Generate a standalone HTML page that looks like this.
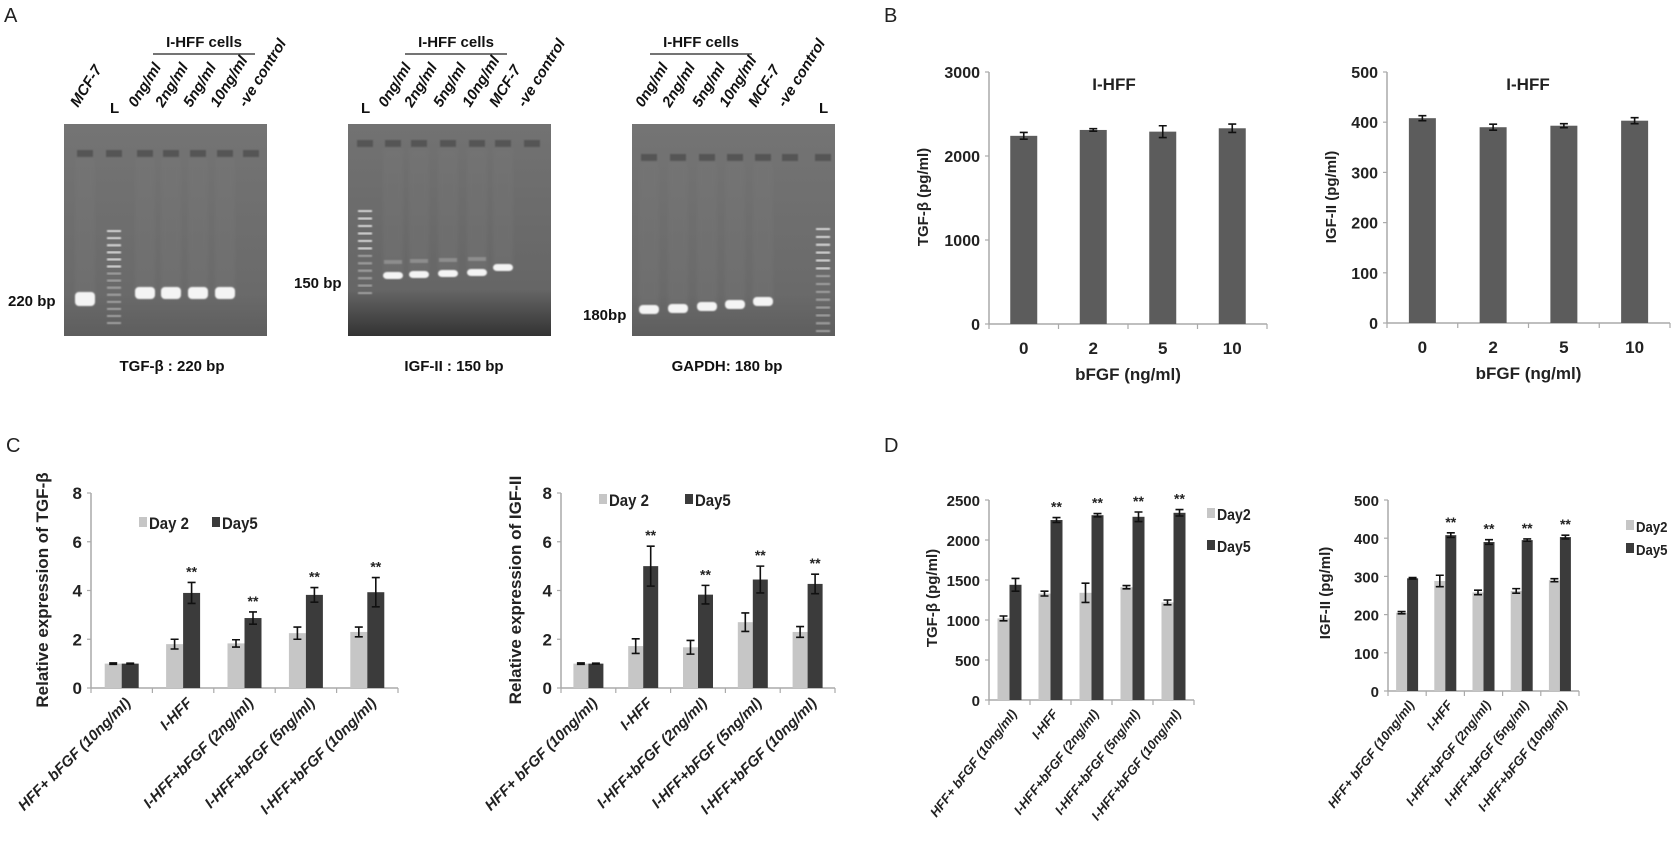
<!DOCTYPE html>
<html><head><meta charset="utf-8">
<style>
html,body{margin:0;padding:0;background:#fff;}
svg{display:block;font-family:"Liberation Sans",Arial,sans-serif;}
</style></head>
<body>
<svg id="fig" width="1674" height="849" viewBox="0 0 1674 849" xmlns="http://www.w3.org/2000/svg">
<defs>
<linearGradient id="gelg" x1="0" y1="0" x2="0" y2="1">
<stop offset="0" stop-color="#747474"/><stop offset="0.8" stop-color="#6a6a6a"/><stop offset="1" stop-color="#5e5e5e"/>
</linearGradient>
<linearGradient id="gelg2" x1="0" y1="0" x2="0" y2="1">
<stop offset="0" stop-color="#727272"/><stop offset="0.78" stop-color="#666"/><stop offset="1" stop-color="#333"/>
</linearGradient>
<filter id="blur1"><feGaussianBlur stdDeviation="2.2"/></filter>
<filter id="blur2"><feGaussianBlur stdDeviation="0.7"/></filter>
</defs>
<g id="layer"></g>
</svg>
<script>
// ---------- chart data ----------
var bCats = ["0","2","5","10"];
var bTgfVals = [2240,2310,2290,2330];
var bTgfErr = [40,15,70,50];
var bIgfVals = [408,390,393,403];
var bIgfErr = [5,6,4,6];
var bTgfTicks = [0,1000,2000,3000];
var bIgfTicks = [0,100,200,300,400,500];

var groupCats = ["HFF+ bFGF (10ng/ml)","I-HFF","I-HFF+bFGF (2ng/ml)","I-HFF+bFGF (5ng/ml)","I-HFF+bFGF (10ng/ml)"];
var cTgfDay2 = [1.0,1.8,1.83,2.25,2.3];
var cTgfDay2Err = [0.03,0.2,0.15,0.25,0.2];
var cTgfDay5 = [1.0,3.9,2.87,3.82,3.93];
var cTgfDay5Err = [0.02,0.43,0.25,0.3,0.6];
var cTgfSig = [false,true,true,true,true];
var cIgfDay2 = [1.0,1.72,1.67,2.7,2.3];
var cIgfDay2Err = [0.03,0.3,0.28,0.38,0.22];
var cIgfDay5 = [1.0,5.0,3.83,4.45,4.27];
var cIgfDay5Err = [0.02,0.82,0.38,0.55,0.4];
var cIgfSig = [false,true,true,true,true];
var cTicks = [0,2,4,6,8];

var dTgfDay2 = [1020,1330,1340,1410,1220];
var dTgfDay2Err = [30,30,120,20,30];
var dTgfDay5 = [1440,2250,2310,2290,2340];
var dTgfDay5Err = [80,30,20,60,40];
var dTgfSig = [false,true,true,true,true];
var dTgfTicks = [0,500,1000,1500,2000,2500];
var dIgfDay2 = [205,288,258,262,290];
var dIgfDay2Err = [3,15,6,6,4];
var dIgfDay5 = [295,408,390,395,403];
var dIgfDay5Err = [2,6,6,3,5];
var dIgfSig = [false,true,true,true,true];
var dIgfTicks = [0,100,200,300,400,500];

var NS = "http://www.w3.org/2000/svg";
var root = document.getElementById("layer");
function el(tag, attrs, parent){
  var e = document.createElementNS(NS, tag);
  for (var k in attrs) e.setAttribute(k, attrs[k]);
  (parent||root).appendChild(e);
  return e;
}
function txt(s, attrs, parent){
  var t = el("text", attrs, parent);
  t.textContent = s;
  return t;
}

// ---------- panel letters ----------
[["A",4,22],["B",884,22],["C",6,452],["D",884,452]].forEach(function(p){
  var t = txt(p[0], {x:p[1], y:p[2], "font-size":"20", fill:"#222"});
  
  
});

// ---------- gels ----------
function gel(cfg){
  var g = el("g", {});
  
  
  var r = el("rect", {x:cfg.x, y:124, width:203, height:212, fill:cfg.grad}, g);
  
  
  cfg.lanes.forEach(function(ln){
    var w = el("rect", {x:ln.x-8, y:cfg.wellY, width:16, height:7, fill:"#555", filter:"url(#blur2)"}, g);
    
    
    if (ln.band){
      var s = el("rect", {x:ln.x-10, y:cfg.wellY+8, width:20, height:ln.band-cfg.wellY-10, fill:"#7a7a7a", opacity:"0.3", filter:"url(#blur1)"}, g);
      
      
      var bd = el("rect", {x:ln.x-10, y:ln.band-5, width:20, height:ln.bh||10, rx:4, fill:"#f4f4f4", filter:"url(#blur2)"}, g);
      
      
      if (ln.extra){
        var ex = el("rect", {x:ln.x-9, y:ln.extra, width:18, height:4, fill:"#8e8e8e", filter:"url(#blur2)"}, g);
        
        
      }
    }
  });
  for (var i=0;i<cfg.ladN;i++){
    var yy = cfg.ladY0 + i*(cfg.ladY1-cfg.ladY0)/(cfg.ladN-1);
    var lb = el("rect", {x:cfg.ladX-7, y:yy, width:14, height:2.2, fill: i<6 ? "#d8d8d8":"#a0a0a0", filter:"url(#blur2)"}, g);
    
    
  }
  cfg.labels.forEach(function(l){
    var t = txt(l[0], {x:0, y:0, "font-size":"15", "font-style":"italic", "font-weight":"bold", fill:"#111", transform:"translate("+l[1]+",108) rotate(-58)"}, g);
    
    
  });
  var L = txt("L", {x:cfg.ladX-4, y:113, "font-size":"15", "font-weight":"bold", fill:"#111"}, g);
  
  
  var h = txt("I-HFF cells", {x:cfg.hdrX, y:47, "font-size":"15", "font-weight":"bold", "text-anchor":"middle", fill:"#111"}, g);
  
  
  var hl = el("line", {x1:cfg.hdrX-51, x2:cfg.hdrX+51, y1:54, y2:54, stroke:"#222", "stroke-width":"1.3"}, g);
  
  
  var sz = txt(cfg.size[0], {x:cfg.size[1], y:cfg.size[2], "font-size":"15", "font-weight":"bold", fill:"#111"}, g);
  
  
  var cap = txt(cfg.caption, {x:cfg.capX, y:371, "font-size":"15", "font-weight":"bold", "text-anchor":"middle", fill:"#111"}, g);
  
  
}
gel({name:"gel-tgf-beta", x:64, grad:"url(#gelg)", wellY:150,
  lanes:[{x:85,band:297,bh:14},{x:114},{x:145,band:292,bh:12},{x:171,band:292,bh:12},{x:198,band:292,bh:12},{x:225,band:292,bh:12},{x:251}],
  ladX:114, ladY0:230, ladY1:322, ladN:14,
  labels:[["MCF-7",78],["0ng/ml",136],["2ng/ml",163],["5ng/ml",191],["10ng/ml",218],["-ve control",246]],
  hdrX:204, size:["220 bp",8,306], caption:"TGF-β : 220 bp", capX:172});
gel({name:"gel-igf-ii", x:348, grad:"url(#gelg2)", wellY:140,
  lanes:[{x:365},{x:393,band:277,bh:7,extra:260},{x:419,band:276,bh:7,extra:259},{x:448,band:275,bh:7,extra:258},{x:477,band:274,bh:7,extra:257},{x:503,band:269,bh:7},{x:532}],
  ladX:365, ladY0:210, ladY1:292, ladN:12,
  labels:[["0ng/ml",386],["2ng/ml",412],["5ng/ml",441],["10ng/ml",470],["MCF-7",497],["-ve control",525]],
  hdrX:456, size:["150 bp",294,288], caption:"IGF-II : 150 bp", capX:454});
gel({name:"gel-gapdh", x:632, grad:"url(#gelg)", wellY:154,
  lanes:[{x:649,band:310,bh:9},{x:678,band:309,bh:9},{x:707,band:307,bh:9},{x:735,band:305,bh:9},{x:763,band:302,bh:9},{x:790},{x:823}],
  ladX:823, ladY0:228, ladY1:330, ladN:14,
  labels:[["0ng/ml",643],["2ng/ml",670],["5ng/ml",700],["10ng/ml",727],["MCF-7",756],["-ve control",785]],
  hdrX:701, size:["180bp",583,320], caption:"GAPDH: 180 bp", capX:727});

// ---------- bar charts ----------
function chart(c){
  var g = el("g", {});
  
  
  var n = c.cats.length;
  var cw = (c.x1 - c.x0)/n;
  var ymax = c.ticks[c.ticks.length-1];
  function sy(v){ return c.y0 - v/ymax*(c.y0 - c.yTop); }
  function sx(i){ return c.x0 + cw*(i+0.5); }
  var ax = el("line", {x1:c.x0, x2:c.x0, y1:c.yTop, y2:c.y0, stroke:"#aaa", "stroke-width":"1.5"}, g);
  
  
  var xa = el("line", {x1:c.x0, x2:c.x1, y1:c.y0, y2:c.y0, stroke:"#aaa", "stroke-width":"1.5"}, g);
  
  
  c.ticks.forEach(function(t){
    var tk = el("line", {x1:c.x0-4, x2:c.x0, y1:sy(t), y2:sy(t), stroke:"#aaa", "stroke-width":"1.2"}, g);
    
    
    var tl = txt(String(t), {x:c.x0-9, y:sy(t)+6, "font-size":c.tickFs, "font-weight":"bold", "text-anchor":"end", fill:"#222"}, g);
    
    
  });
  for (var i=0;i<=n;i++){
    var xt = el("line", {x1:c.x0+cw*i, x2:c.x0+cw*i, y1:c.y0, y2:c.y0+5, stroke:"#aaa", "stroke-width":"1.2"}, g);
    
    
  }
  c.series.forEach(function(s, si){
    s.vals.forEach(function(v, i){
      var bx = c.series.length === 1 ? sx(i) - c.bw/2 : sx(i) - c.bw + si*c.bw;
      var r = el("rect", {x:bx, y:sy(v), width:c.bw, height:c.y0 - sy(v), fill:s.color}, g);
      
      
      var cx = bx + c.bw/2, e = s.err[i];
      var eb = el("path", {d:"M"+(cx-4)+" "+sy(v+e)+"H"+(cx+4)+"M"+cx+" "+sy(v+e)+"V"+sy(v-e)+"M"+(cx-4)+" "+sy(v-e)+"H"+(cx+4), stroke:"#111", "stroke-width":"1.6", fill:"none"}, g);
      
      
      if (s.sig && s.sig[i]){
        var st = txt("**", {x:cx, y:sy(v+e)-c.sigGap, "font-size":"14", "font-weight":"bold", "text-anchor":"middle", fill:"#222"}, g);
        
        
      }
    });
  });
  c.cats.forEach(function(cat, i){
    var t;
    if (c.rot){
      t = txt(cat, {x:0, y:0, "font-size":c.catFs, "font-weight":"bold", "font-style":"italic", "text-anchor":"end", fill:"#222", transform:"translate("+(sx(i)+c.rotDx)+","+(c.y0+c.rotDy)+") rotate("+c.rot+")"}, g);
    } else {
      t = txt(cat, {x:sx(i), y:c.y0+30, "font-size":"17", "font-weight":"bold", "text-anchor":"middle", fill:"#222"}, g);
    }
    
    
  });
  var yl = txt(c.ylabel, {x:0, y:0, "font-size":c.ylFs, "font-weight":"bold", "text-anchor":"middle", fill:"#222", transform:"translate("+c.ylX+","+c.ylY+") rotate(-90)"}, g);
  
  
  if (c.xlabel){
    var xl = txt(c.xlabel, {x:(c.x0+c.x1)/2, y:c.y0+56, "font-size":"17", "font-weight":"bold", "text-anchor":"middle", fill:"#222"}, g);
    
    
  }
  if (c.title){
    var ti = txt(c.title[0], {x:c.title[1], y:90, "font-size":"17", "font-weight":"bold", "text-anchor":"middle", fill:"#222"}, g);
    
    
  }
  if (c.legend){
    c.legend.forEach(function(L, li){
      var lg = el("g", {}, g);
      
      
      var sw = el("rect", {x:L[1], y:L[2]-12, width:8, height:10, fill:c.series[li].color}, lg);
      
      
      var lt = txt(L[0], {x:0, y:0, "font-size":c.legFs, "font-weight":"bold", fill:"#222", transform:"translate("+(L[1]+10)+","+L[2]+") scale(0.88,1)"}, lg);
      
      
    });
  }
}
var LIGHT = "#c6c6c6", DARK = "#3b3b3b", MID = "#5c5c5c";
chart({name:"chart-b-tgf", cats:bCats, x0:989, x1:1267, yTop:72, y0:324, ticks:bTgfTicks, bw:27, tickFs:"16", sigGap:4,
  series:[{key:"tgf", vals:bTgfVals, err:bTgfErr, color:MID}],
  ylabel:"TGF-β (pg/ml)", ylX:928, ylY:197, ylFs:"15", xlabel:"bFGF (ng/ml)", title:["I-HFF",1114]});
chart({name:"chart-b-igf", cats:bCats, x0:1387, x1:1670, yTop:72, y0:323, ticks:bIgfTicks, bw:27, tickFs:"16", sigGap:4,
  series:[{key:"igf", vals:bIgfVals, err:bIgfErr, color:MID}],
  ylabel:"IGF-II (pg/ml)", ylX:1336, ylY:197, ylFs:"15", xlabel:"bFGF (ng/ml)", title:["I-HFF",1528]});
chart({name:"chart-c-tgf", cats:groupCats, x0:91, x1:398, yTop:493, y0:688, ticks:cTicks, bw:17, tickFs:"17", sigGap:6,
  series:[{key:"day2", vals:cTgfDay2, err:cTgfDay2Err, color:LIGHT},{key:"day5", vals:cTgfDay5, err:cTgfDay5Err, color:DARK, sig:cTgfSig}],
  ylabel:"Relative expression of TGF-β", ylX:48, ylY:590, ylFs:"17", rot:-45, rotDx:10, rotDy:16, catFs:"15",
  legend:[["Day 2",139,529],["Day5",212,529]], legFs:"17"});
chart({name:"chart-c-igf", cats:groupCats, x0:561, x1:835, yTop:493, y0:688, ticks:cTicks, bw:15, tickFs:"17", sigGap:6,
  series:[{key:"day2", vals:cIgfDay2, err:cIgfDay2Err, color:LIGHT},{key:"day5", vals:cIgfDay5, err:cIgfDay5Err, color:DARK, sig:cIgfSig}],
  ylabel:"Relative expression of IGF-II", ylX:521, ylY:590, ylFs:"17", rot:-45, rotDx:10, rotDy:16, catFs:"15",
  legend:[["Day 2",599,506],["Day5",685,506]], legFs:"17"});
chart({name:"chart-d-tgf", cats:groupCats, x0:989, x1:1194, yTop:500, y0:700, ticks:dTgfTicks, bw:12, tickFs:"15", sigGap:6,
  series:[{key:"day2", vals:dTgfDay2, err:dTgfDay2Err, color:LIGHT},{key:"day5", vals:dTgfDay5, err:dTgfDay5Err, color:DARK, sig:dTgfSig}],
  ylabel:"TGF-β (pg/ml)", ylX:937, ylY:598, ylFs:"15", rot:-52, rotDx:8, rotDy:14, catFs:"13",
  legend:[["Day2",1207,520],["Day5",1207,552]], legFs:"16"});
chart({name:"chart-d-igf", cats:groupCats, x0:1388, x1:1579, yTop:500, y0:691, ticks:dIgfTicks, bw:11, tickFs:"15", sigGap:6,
  series:[{key:"day2", vals:dIgfDay2, err:dIgfDay2Err, color:LIGHT},{key:"day5", vals:dIgfDay5, err:dIgfDay5Err, color:DARK, sig:dIgfSig}],
  ylabel:"IGF-II (pg/ml)", ylX:1330, ylY:593, ylFs:"15", rot:-52, rotDx:8, rotDy:14, catFs:"13",
  legend:[["Day2",1626,532],["Day5",1626,555]], legFs:"15"});
</script>
</body></html>
